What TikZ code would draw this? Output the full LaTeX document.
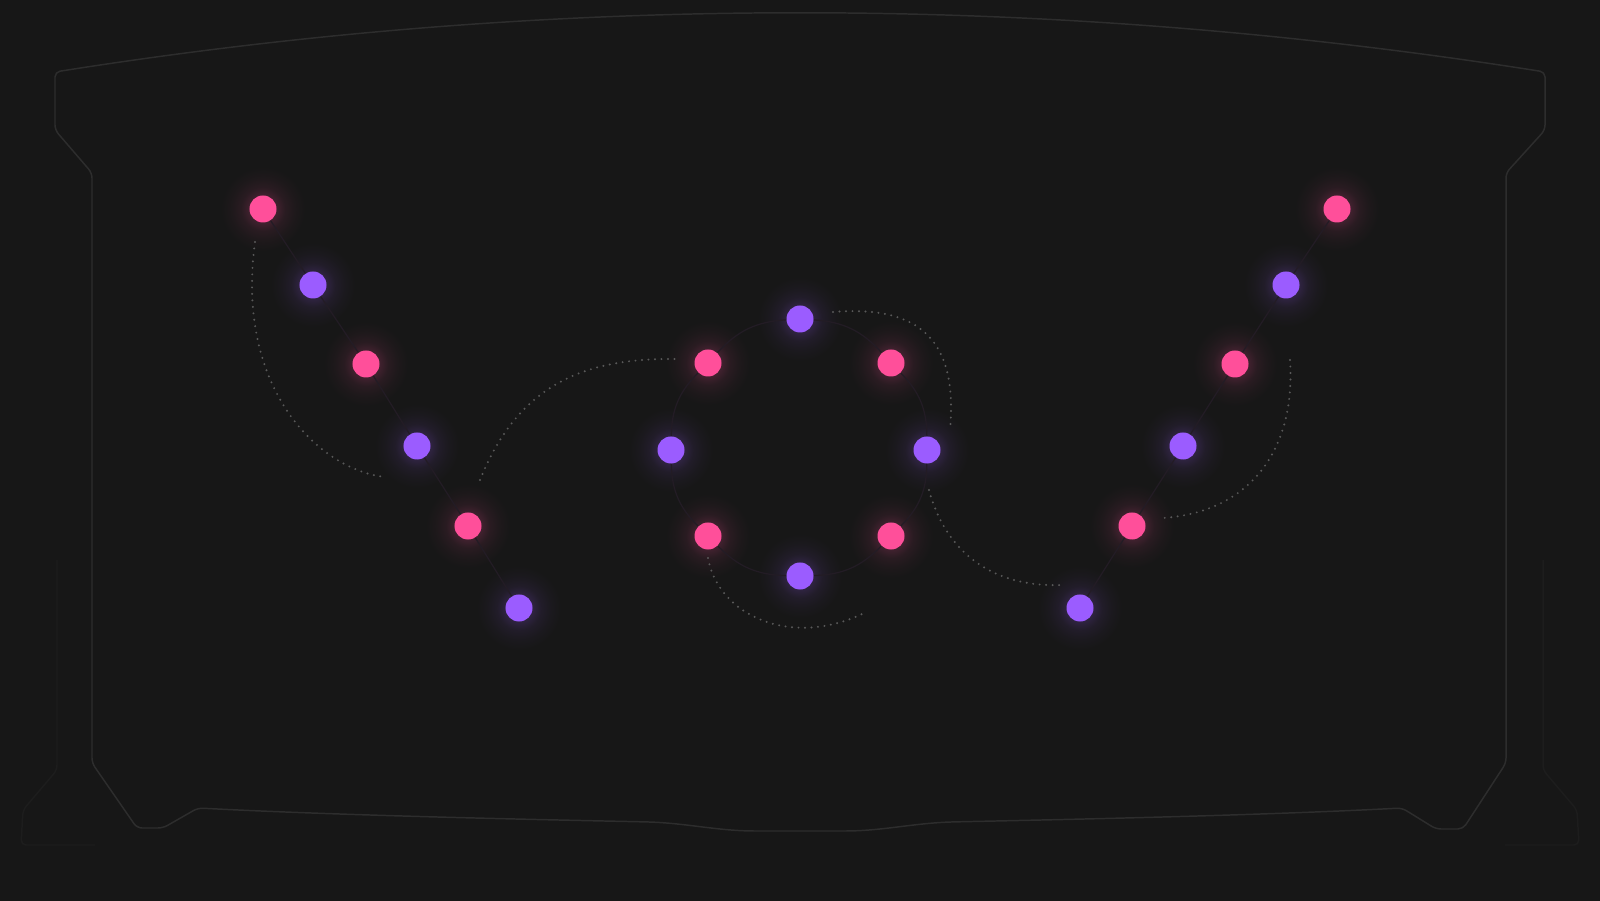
\documentclass[tikz,border=0pt]{standalone}
\definecolor{bg}{HTML}{171717}
\definecolor{framec}{HTML}{2D2D2D}
\definecolor{faintc}{HTML}{1D1D1D}
\definecolor{gpink}{HTML}{FF4F9A}
\definecolor{gpurple}{HTML}{9B5CFF}
\definecolor{dotgray}{HTML}{595959}
\definecolor{linkc}{HTML}{231C25}
\pgfdeclareradialshading{pinkglow}{\pgfpoint{0bp}{0bp}}{color(0bp)=(gpink!32!bg); color(8bp)=(gpink!18!bg); color(13bp)=(gpink!8!bg); color(19bp)=(gpink!3!bg); color(25bp)=(bg); color(50bp)=(bg)}
\pgfdeclareradialshading{purpleglow}{\pgfpoint{0bp}{0bp}}{color(0bp)=(gpurple!32!bg); color(8bp)=(gpurple!18!bg); color(13bp)=(gpurple!8!bg); color(19bp)=(gpurple!3!bg); color(25bp)=(bg); color(50bp)=(bg)}
\pgfdeclarelayer{back}
\pgfsetlayers{back,main}
\tikzset{
  dotnode/.style={circle, minimum size=0.27cm, inner sep=0pt, draw=none},
  pinkdot/.style={dotnode, fill=gpink},
  purpdot/.style={dotnode, fill=gpurple},
  frameline/.style={draw=framec, line width=0.42pt, rounded corners=0.05cm},
  faintline/.style={draw=faintc, line width=0.42pt, rounded corners=0.05cm},
  linkline/.style={draw=linkc, line width=0.35pt},
  dotline/.style={draw=dotgray, line width=0.62pt, line cap=round, dash pattern=on 0pt off 0.065cm},
}
\begin{document}
\begin{tikzpicture}[x=0.01cm, y=-0.01cm]
\useasboundingbox (0,0) rectangle (1600,901);
% left chain
\node[pinkdot] (A1) at (263,209) {};
\node[purpdot] (A2) at (313,285) {};
\node[pinkdot] (A3) at (366,364) {};
\node[purpdot] (A4) at (417,446) {};
\node[pinkdot] (A5) at (468,526) {};
\node[purpdot] (A6) at (519,608) {};
% right chain
\node[pinkdot] (C1) at (1337,209) {};
\node[purpdot] (C2) at (1286,285) {};
\node[pinkdot] (C3) at (1235,364) {};
\node[purpdot] (C4) at (1183,446) {};
\node[pinkdot] (C5) at (1132,526) {};
\node[purpdot] (C6) at (1080,608) {};
% ring
\node[purpdot] (R1) at (800,319) {};
\node[pinkdot] (R2) at (891,363) {};
\node[purpdot] (R3) at (927,450) {};
\node[pinkdot] (R4) at (891,536) {};
\node[purpdot] (R5) at (800,576) {};
\node[pinkdot] (R6) at (708,536) {};
\node[purpdot] (R7) at (671,450) {};
\node[pinkdot] (R8) at (708,363) {};
% free ends of dotted curves
\coordinate (d1s) at (255,242); \coordinate (d1e) at (385,477);
\coordinate (d2s) at (480,480); \coordinate (d2e) at (677,359);
\coordinate (d3s) at (833,312); \coordinate (d3e) at (950,430);
\coordinate (d4s) at (929,490); \coordinate (d4e) at (1063,585);
\coordinate (d5s) at (708,558); \coordinate (d5e) at (862,614);
\coordinate (d6s) at (1290,360); \coordinate (d6e) at (1163,518);
\begin{pgfonlayer}{back}
  \fill[bg] (0,0) rectangle (1600,901);
  % frame
  \draw[frameline] (55,130) -- (55,72) .. controls (551.7,-6.7) and (1048.3,-6.7) .. (1545,72)
    -- (1545,130) -- (1506,173) -- (1506,763) -- (1463,829) -- (1436,829) -- (1402,808)
    .. controls (1250,816) and (1040,820) .. (950,822)
    .. controls (910,824) and (880,831) .. (840,831) -- (760,831)
    .. controls (720,831) and (690,824) .. (650,822)
    .. controls (560,820) and (350,816) .. (198,808)
    -- (163,828) -- (137,828) -- (92,763) -- (92,173) -- cycle;
  \draw[faintline] (57,560) -- (57,770) -- (23,810) -- (21,845) -- (95,845);
  \draw[faintline] (1543,560) -- (1543,770) -- (1577,810) -- (1579,845) -- (1505,845);
  % glows
  \foreach \n in {A1,A3,A5,C1,C3,C5,R2,R4,R6,R8}
    \shade[shading=pinkglow] (\n) circle[radius=0.42cm];
  \foreach \n in {A2,A4,A6,C2,C4,C6,R1,R3,R5,R7}
    \shade[shading=purpleglow] (\n) circle[radius=0.42cm];
  % faint links
  \draw[linkline] (A1) -- (A2); \draw[linkline] (A2) -- (A3);
  \draw[linkline] (A3) -- (A4); \draw[linkline] (A4) -- (A5);
  \draw[linkline] (A5) -- (A6);
  \draw[linkline] (C1) -- (C2); \draw[linkline] (C2) -- (C3);
  \draw[linkline] (C3) -- (C4); \draw[linkline] (C4) -- (C5);
  \draw[linkline] (C5) -- (C6);
  \draw[linkline] (R1) to[bend left=22] (R2);
  \draw[linkline] (R2) to[bend left=22] (R3);
  \draw[linkline] (R3) to[bend left=22] (R4);
  \draw[linkline] (R4) to[bend left=22] (R5);
  \draw[linkline] (R5) to[bend left=22] (R6);
  \draw[linkline] (R6) to[bend left=22] (R7);
  \draw[linkline] (R7) to[bend left=22] (R8);
  \draw[linkline] (R8) to[bend left=22] (R1);
  % dotted curves
  \draw[dotline] (d1s) .. controls (235,390) and (320,470) .. (d1e);
  \draw[dotline] (d2s) .. controls (520,380) and (590,358) .. (d2e);
  \draw[dotline] (d3s) .. controls (920,305) and (958,340) .. (d3e);
  \draw[dotline] (d4s) .. controls (945,550) and (990,588) .. (d4e);
  \draw[dotline] (d5s) .. controls (718,615) and (790,648) .. (d5e);
  \draw[dotline] (d6s) .. controls (1296,450) and (1250,512) .. (d6e);
\end{pgfonlayer}
\end{tikzpicture}
\end{document}
